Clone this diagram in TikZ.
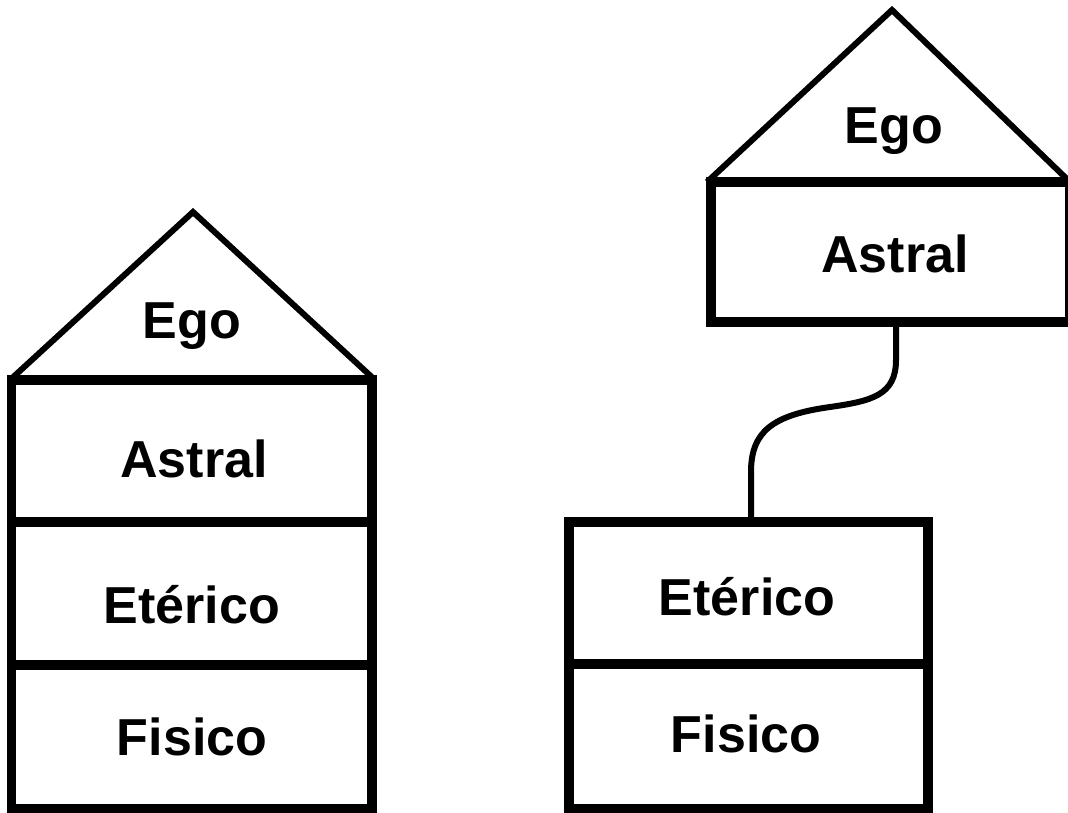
\documentclass[tikz,border=0pt]{standalone}
\usepackage{fontspec}
\setmainfont{Liberation Sans}
\begin{document}
\begin{tikzpicture}[x=1pt,y=-1pt,
  layer/.style={draw=black, line width=9.5pt, inner sep=0pt, outer sep=0pt, rectangle},
  roof/.style={draw=black, line width=6pt, line join=miter},
  lbl/.style={inner sep=0pt, anchor=base, font=\fontsize{52}{60}\selectfont\bfseries},
  link/.style={draw=black, line width=6pt}]
\useasboundingbox (0,0) rectangle (1068,812);
\clip (0,0) rectangle (1068,812);
% left house
\draw[roof] (10,380) -- (193,212) -- (375,380);
\node[layer, minimum width=360.5pt, minimum height=142pt] (LA) at (191.75,451) {};
\node[layer, minimum width=360.5pt, minimum height=143pt] (LE) at (191.75,593.5) {};
\node[layer, minimum width=360.5pt, minimum height=144pt] (LF) at (191.75,737) {};
\node[lbl] (LEgo) at (192,338) {Ego};
\node[lbl] (LAt) at (194,477) {Astral};
\node[lbl] (LEt) at (192,623) {Etérico};
\node[lbl] (LFi) at (192,755) {Fisico};
% right house
\draw[roof] (707,182) -- (892,10) -- (1070,182);
\node[layer, minimum width=359pt, minimum height=140pt] (RA) at (890.5,252) {};
\node[layer, minimum width=359pt, minimum height=142pt] (RE) at (748.5,593) {};
\node[layer, minimum width=359pt, minimum height=145pt] (RF) at (748.5,736.5) {};
\node[lbl] (REgo) at (894,143) {Ego};
\node[lbl] (RAt) at (895,272) {Astral};
\node[lbl] (REt) at (747,615) {Etérico};
\node[lbl] (RFi) at (746,752) {Fisico};
% connector
\coordinate (c1) at (RA.south -| 896,0);
\coordinate (c2) at (RE.north -| 751,0);
\draw[link] (c1) -- (896,360) .. controls (896,395) and (872,401) .. (830,407)
  .. controls (772,415) and (751,432) .. (751,472) -- (c2);
\end{tikzpicture}
\end{document}
